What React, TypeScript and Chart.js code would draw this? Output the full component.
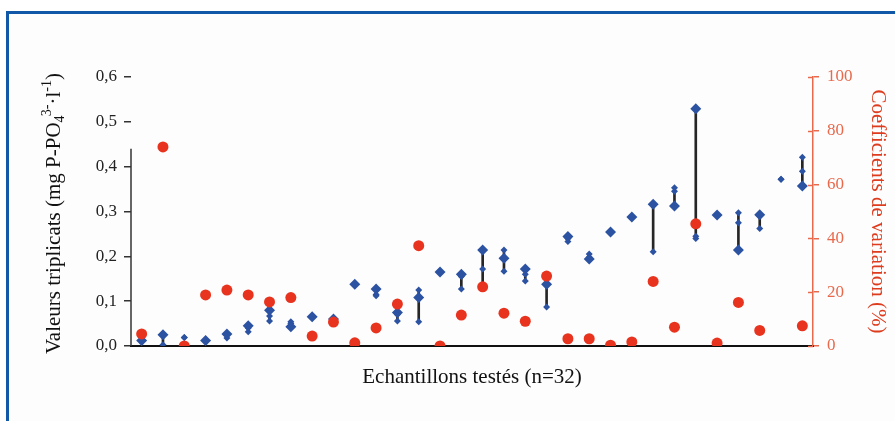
import React, { useEffect, useRef } from "react";
import { Chart, registerables } from "chart.js";

Chart.register(...registerables);

// ---- data ----
const samples = [
  "1", "2", "3", "4", "5", "6", "7", "8", "9", "10", "11", "12", "13", "14", "15", "16",
  "17", "18", "19", "20", "21", "22", "23", "24", "25", "26", "27", "28", "29", "30", "31", "32",
];

// large diamond (one replicate)
const replicateA: (number | null)[] = [
  0.012, 0.025, null, 0.012, 0.027, 0.045, 0.080, 0.043, 0.065, 0.060, 0.138, 0.127, 0.075, 0.108, 0.165, 0.160,
  0.214, 0.196, 0.172, 0.138, 0.244, 0.194, 0.254, 0.288, 0.316, 0.312, 0.529, 0.292, 0.214, 0.293, null, 0.357,
];
// small diamonds (other two replicates)
const replicateB: (number | null)[] = [
  0.013, 0.025, 0.019, 0.012, 0.018, 0.032, 0.067, 0.054, 0.065, 0.058, 0.138, 0.112, 0.056, 0.125, 0.165, 0.127,
  0.172, 0.214, 0.145, 0.087, 0.233, 0.205, 0.254, 0.288, 0.210, 0.353, 0.240, 0.292, 0.297, 0.262, 0.372, 0.421,
];
const replicateC: (number | null)[] = [
  0.013, 0.003, 0.019, 0.012, 0.025, 0.040, 0.056, 0.050, 0.066, 0.055, 0.137, 0.115, 0.070, 0.054, 0.165, 0.155,
  0.129, 0.167, 0.160, 0.135, 0.240, 0.198, 0.254, 0.289, 0.316, 0.345, 0.245, 0.293, 0.275, 0.290, 0.372, 0.390,
];
// coefficients of variation (%)
const cvValues: (number | null)[] = [
  4.5, 74, 0, 19, 20.8, 19, 16.4, 18, 3.7, 8.9, 1.2, 6.7, 15.6, 37.3, 0, 11.5,
  22, 12.2, 9.2, 26, 2.7, 2.7, 0.3, 1.5, 24, 7, 45.4, 1.1, 16.2, 5.8, null, 7.5,
];

const leftTickLabels = ["0,0", "0,1", "0,2", "0,3", "0,4", "0,5", "0,6"];
const rightTickLabels = ["0", "20", "40", "60", "80", "100"];
const leftAxisLineTop = 0.44; // the drawn left axis line stops here

const xTitle = "Echantillons testés (n=32)";
const rightTitle = "Coefficients de variation (%)";
const leftTitleParts = [
  { text: "Valeurs triplicats (mg P-PO", kind: "n" },
  { text: "4", kind: "sub" },
  { text: "3-", kind: "sup" },
  { text: "·l", kind: "n" },
  { text: "-1", kind: "sup" },
  { text: ")", kind: "n" },
];

const BLUE = "#2c52a2";
const RED = "#e8341f";
const SALMON = "#e8694c";
const SERIF = "'Liberation Serif', 'Times New Roman', serif";

const ranges = samples.map((_, i) => {
  const v = [replicateA[i], replicateB[i], replicateC[i]].filter((x) => x !== null) as number[];
  return [Math.min(...v), Math.max(...v)];
});

const partialLeftAxis = {
  id: "partialLeftAxis",
  afterDraw(chart: any) {
    const { ctx, chartArea, scales } = chart;
    const y = scales.y;
    ctx.save();
    ctx.strokeStyle = "#333";
    ctx.lineWidth = 1.5;
    ctx.beginPath();
    ctx.moveTo(chartArea.left, y.getPixelForValue(0));
    ctx.lineTo(chartArea.left, y.getPixelForValue(leftAxisLineTop));
    ctx.stroke();
    ctx.restore();
  },
};

const rightInnerTicks = {
  id: "rightInnerTicks",
  afterDraw(chart: any) {
    const { ctx, chartArea, scales } = chart;
    const y1 = scales.y1;
    ctx.save();
    ctx.strokeStyle = SALMON;
    ctx.lineWidth = 1.5;
    y1.ticks.forEach((t: any) => {
      const py = Math.round(y1.getPixelForValue(t.value)) + 0.5;
      ctx.beginPath();
      ctx.moveTo(chartArea.right - 5, py);
      ctx.lineTo(chartArea.right, py);
      ctx.stroke();
    });
    ctx.restore();
  },
};

const leftTitlePlugin = {
  id: "leftTitle",
  afterDraw(chart: any) {
    const { ctx, chartArea } = chart;
    const big = 21;
    const small = 14;
    ctx.save();
    const cx = chartArea.left - 77;
    const cy = (chartArea.top + chartArea.bottom) / 2 + 2;
    ctx.translate(cx, cy);
    ctx.rotate(-Math.PI / 2);
    ctx.fillStyle = "#111";
    ctx.textBaseline = "middle";
    ctx.textAlign = "left";
    let total = 0;
    const widths: number[] = [];
    leftTitleParts.forEach((p, i) => {
      ctx.font = `${p.kind === "n" ? big : small}px ${SERIF}`;
      let w = ctx.measureText(p.text).width;
      if (p.kind === "sub" && leftTitleParts[i + 1] && leftTitleParts[i + 1].kind === "sup") w = w * 0.9;
      widths.push(w);
      total += w;
    });
    let x = -total / 2;
    leftTitleParts.forEach((p, i) => {
      ctx.font = `${p.kind === "n" ? big : small}px ${SERIF}`;
      const dy = p.kind === "sub" ? 6 : p.kind === "sup" ? -7 : 0;
      ctx.fillText(p.text, x, dy);
      x += widths[i];
    });
    ctx.restore();
  },
};

export default function App() {
  const canvasRef = useRef<HTMLCanvasElement | null>(null);

  useEffect(() => {
    if (!canvasRef.current) return;
    Chart.defaults.font.family = SERIF;
    const chart = new Chart(canvasRef.current, {
      type: "bar",
      data: {
        labels: samples,
        datasets: [
          {
            type: "line",
            label: "CV",
            data: cvValues,
            yAxisID: "y1",
            showLine: false,
            pointStyle: "circle",
            pointRadius: 5.5,
            pointBackgroundColor: RED,
            pointBorderWidth: 0,
            order: 1,
          } as any,
          {
            type: "line",
            label: "A",
            data: replicateA,
            yAxisID: "y",
            showLine: false,
            pointStyle: "rectRot",
            pointRadius: 5.5,
            pointBackgroundColor: BLUE,
            pointBorderWidth: 0,
            order: 2,
          } as any,
          {
            type: "line",
            label: "B",
            data: replicateB,
            yAxisID: "y",
            showLine: false,
            pointStyle: "rectRot",
            pointRadius: 3.5,
            pointBackgroundColor: BLUE,
            pointBorderWidth: 0,
            order: 3,
          } as any,
          {
            type: "line",
            label: "C",
            data: replicateC,
            yAxisID: "y",
            showLine: false,
            pointStyle: "rectRot",
            pointRadius: 3.5,
            pointBackgroundColor: BLUE,
            pointBorderWidth: 0,
            order: 3,
          } as any,
          {
            type: "bar",
            label: "range",
            data: ranges as any,
            yAxisID: "y",
            backgroundColor: "#262626",
            borderWidth: 0,
            barThickness: 2,
            order: 4,
          } as any,
        ],
      },
      options: {
        animation: false,
        responsive: true,
        maintainAspectRatio: false,
        layout: { padding: { top: 77, left: 0, right: 0, bottom: 0 } },
        plugins: { legend: { display: false }, tooltip: { enabled: false } },
        scales: {
          x: {
            type: "category",
            offset: true,
            grid: { display: false },
            border: { display: true, color: "#111", width: 2 },
            ticks: { display: false },
            title: {
              display: true,
              text: xTitle,
              color: "#111",
              font: { size: 21, family: SERIF },
              padding: { top: 0, bottom: 31 },
            },
            afterFit: (s: any) => {
              s.height = 75;
            },
          },
          y: {
            position: "left",
            min: 0,
            max: 0.6,
            ticks: {
              stepSize: 0.1,
              color: "#222",
              font: { size: 17, family: SERIF },
              padding: 7,
              callback: (_v: any, i: number) => leftTickLabels[i],
            },
            grid: { drawOnChartArea: false, drawTicks: true, tickLength: 7, color: "#333", lineWidth: 1.5 },
            border: { display: false },
            afterFit: (s: any) => {
              s.width = 131;
            },
          },
          y1: {
            position: "right",
            min: 0,
            max: 100,
            ticks: {
              stepSize: 20,
              color: SALMON,
              font: { size: 17, family: SERIF },
              padding: 8,
              callback: (_v: any, i: number) => rightTickLabels[i],
            },
            grid: { drawOnChartArea: false, drawTicks: true, tickLength: 6, color: SALMON, lineWidth: 1.5 },
            border: { display: true, color: SALMON, width: 1.5 },
            title: {
              display: true,
              text: rightTitle,
              color: "#de3c1e",
              font: { size: 21, family: SERIF },
              padding: { top: 5, bottom: 0 },
            },
            afterFit: (s: any) => {
              s.width = 82;
            },
          },
        },
      } as any,
      plugins: [partialLeftAxis, rightInnerTicks, leftTitlePlugin],
    });
    return () => chart.destroy();
  }, []);

  return (
    <div style={{ position: "fixed", left: 0, top: 0, width: 895, height: 421, overflow: "hidden", background: "#fff" }}>
      <div
        style={{
          position: "absolute",
          left: 6,
          top: 11,
          width: 1000,
          height: 1000,
          border: "3px solid #1258a8",
          background: "#fdfdfd",
          boxSizing: "border-box",
        }}
      />
      <div style={{ position: "absolute", left: 0, top: 0, width: 895, height: 421 }}>
        <canvas ref={canvasRef} />
      </div>
    </div>
  );
}
